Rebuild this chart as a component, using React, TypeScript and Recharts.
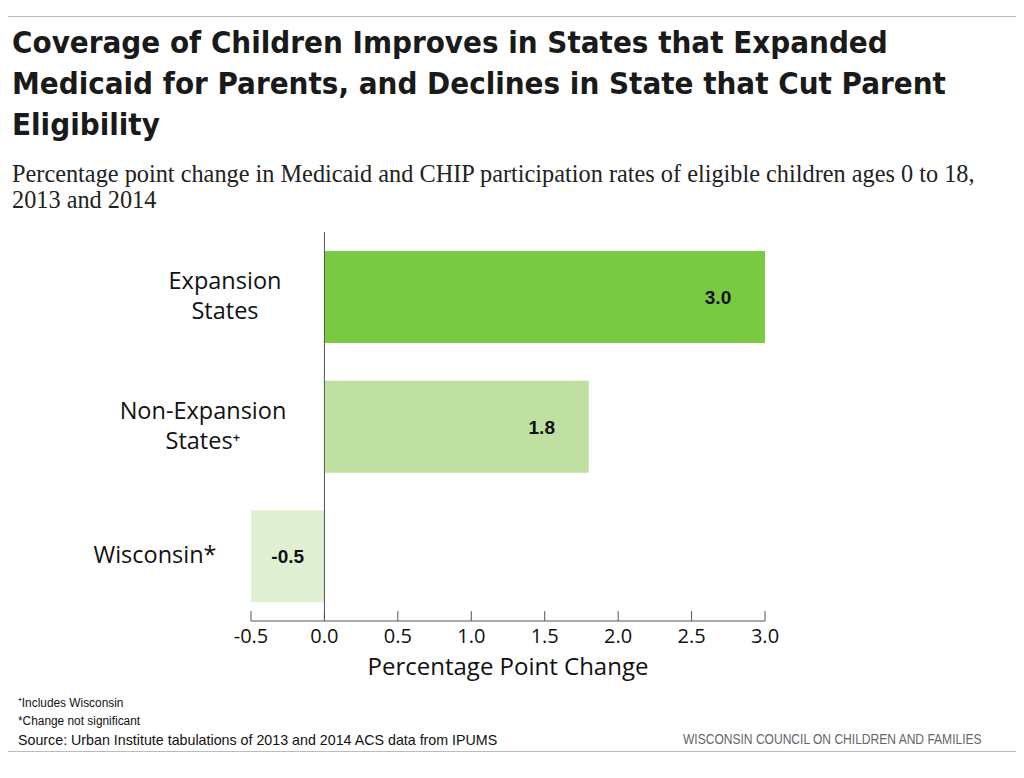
import React from 'react';
import { BarChart, Bar, XAxis, YAxis, Cell, ReferenceLine, LabelList } from 'recharts';

const categories = ['Expansion\nStates', 'Non-Expansion\nStates\u207A', 'Wisconsin*'];
const changes = [3.0, 1.8, -0.5];
const barColors = ['#7ac943', '#c0e0a2', '#e0f0d3'];
const xTicks = [-0.5, 0, 0.5, 1.0, 1.5, 2.0, 2.5, 3.0];

const titleLines = [
  'Coverage of Children Improves in States that Expanded',
  'Medicaid for Parents, and Declines in State that Cut Parent',
  'Eligibility',
];
const subtitleLines = [
  'Percentage point change in Medicaid and CHIP participation rates of eligible children ages 0 to 18,',
  '2013 and 2014',
];

const data = categories.map((name, i) => ({ name, value: changes[i] }));

// horizontal centres of the category labels (distance left of the tick anchor)
const labelShift = [18, 40, 88];

const sans = '"Open Sans", "Noto Sans", sans-serif';
const narrow = '"Liberation Sans", Arial, sans-serif';

const CategoryTick = ({ x, y, payload, index }: any) => {
  const lines = String(payload.value).split('\n');
  const cx = x - labelShift[index ?? 0];
  const startY = y - ((lines.length - 1) * 30) / 2;
  return (
    <text textAnchor="middle" fontFamily={sans} fontSize={23.5} fill="#111">
      {lines.map((line, i) => (
        <tspan key={i} x={cx} y={startY + i * 30} dy="0.3em">
          {line}
        </tspan>
      ))}
    </text>
  );
};

const ValueTick = ({ x, y, payload }: any) => (
  <g>
    <line x1={x} x2={x} y1={y - 10} y2={y} stroke="#555" strokeWidth={1} />
    <text x={x} y={y + 22} textAnchor="middle" fontFamily={sans} fontSize={20} fill="#111">
      {Number(payload.value).toFixed(1)}
    </text>
  </g>
);

const ValueLabel = ({ x, y, width, height, value }: any) => {
  const left = Math.min(x, x + width);
  const right = Math.max(x, x + width);
  const lx = value >= 0 ? right - 47 : (left + right) / 2;
  return (
    <text
      x={lx}
      y={y + height / 2}
      dy="0.36em"
      textAnchor="middle"
      fontFamily={narrow}
      fontWeight="bold"
      fontSize={19}
      fill="#111"
    >
      {Number(value).toFixed(1)}
    </text>
  );
};

export default function App() {
  return (
    <div style={{ position: 'absolute', left: 0, top: 0, width: 1024, height: 778, background: '#fff', overflow: 'hidden' }}>
      <div style={{ position: 'absolute', left: 8, top: 16, width: 1008, borderTop: '1px solid #bbb' }} />
      <div
        style={{
          position: 'absolute',
          left: 12,
          top: 22,
          fontFamily: '"DejaVu Sans Condensed", "DejaVu Sans", sans-serif',
          fontWeight: 'bold',
          fontSize: 31,
          lineHeight: '41px',
          color: '#1a1a1a',
          whiteSpace: 'nowrap',
        }}
      >
        {titleLines.map((t) => (
          <div key={t}>{t}</div>
        ))}
      </div>
      <div
        style={{
          position: 'absolute',
          left: 12,
          top: 161,
          fontFamily: '"Liberation Serif", "Times New Roman", serif',
          fontSize: 24.3,
          lineHeight: '26px',
          color: '#222',
          whiteSpace: 'nowrap',
        }}
      >
        {subtitleLines.map((t) => (
          <div key={t}>{t}</div>
        ))}
      </div>

      <div style={{ position: 'absolute', left: 0, top: 0 }}>
        <BarChart
          width={1024}
          height={700}
          data={data}
          layout="vertical"
          margin={{ top: 232, right: 259, bottom: 19, left: 51 }}
        >
          <XAxis
            type="number"
            dataKey="value"
            domain={[-0.5, 3]}
            ticks={xTicks}
            interval={0}
            tickSize={0}
            tickMargin={0}
            tick={<ValueTick />}
            axisLine={{ stroke: '#555', strokeWidth: 1 }}
            tickLine={false}
            height={60}
            label={{
              value: 'Percentage Point Change',
              position: 'insideBottom',
              offset: 6,
              style: { fontFamily: sans, fontSize: 24, fill: '#111' },
            }}
          />
          <YAxis
            type="category"
            dataKey="name"
            width={200}
            axisLine={false}
            tickLine={false}
            tick={<CategoryTick />}
          />
          <ReferenceLine x={0} stroke="#555" strokeWidth={1} />
          <Bar dataKey="value" barSize={92} isAnimationActive={false}>
            {data.map((d, i) => (
              <Cell key={d.name} fill={barColors[i]} />
            ))}
            <LabelList dataKey="value" content={<ValueLabel />} />
          </Bar>
        </BarChart>
      </div>

      <div
        style={{
          position: 'absolute',
          left: 18,
          top: 694,
          fontFamily: narrow,
          color: '#111',
          whiteSpace: 'nowrap',
          transform: 'scaleX(0.95)',
          transformOrigin: 'left top',
        }}
      >
        <div style={{ fontSize: 12.5, lineHeight: '18px' }}>{'\u207AIncludes Wisconsin'}</div>
        <div style={{ fontSize: 12.5, lineHeight: '18px' }}>*Change not significant</div>
        <div style={{ fontSize: 15, lineHeight: '20px' }}>
          Source: Urban Institute tabulations of 2013 and 2014 ACS data from IPUMS
        </div>
      </div>
      <div
        style={{
          position: 'absolute',
          left: 683,
          top: 731,
          fontFamily: narrow,
          fontSize: 14,
          color: '#666',
          whiteSpace: 'nowrap',
          transform: 'scaleX(0.86)',
          transformOrigin: 'left top',
        }}
      >
        WISCONSIN COUNCIL ON CHILDREN AND FAMILIES
      </div>
      <div style={{ position: 'absolute', left: 8, top: 751, width: 1008, borderTop: '1px solid #bbb' }} />
    </div>
  );
}
